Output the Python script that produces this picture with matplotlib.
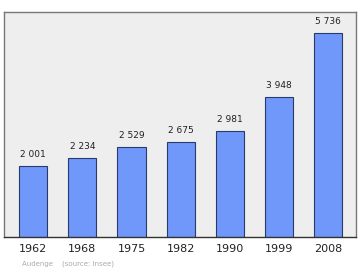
import matplotlib
matplotlib.use("Agg")
import matplotlib.pyplot as plt

years = ["1962", "1968", "1975", "1982", "1990", "1999", "2008"]
population = [2001, 2234, 2529, 2675, 2981, 3948, 5736]

fig = plt.figure(figsize=(3.6, 2.7), dpi=100)
ax = fig.add_axes([4 / 360, 33 / 270, 352 / 360, 225 / 270])
ax.set_facecolor("#eeeeee")

x = list(range(len(years)))
bars = ax.bar(x, population, width=0.57, color="#6f98fa", edgecolor="#2a3a6a", linewidth=0.8)
for xi, v in zip(x, population):
    label = f"{v:,}".replace(",", " ")
    ax.annotate(label, (xi, v), xytext=(0, 5), textcoords="offset points",
                ha="center", va="bottom", fontsize=6.5, color="#222222")

ax.set_xlim(-0.59, 6.56)
ax.set_ylim(0, 6330)
ax.set_xticks(x)
ax.set_xticklabels(years, fontsize=8, color="#222222")
ax.tick_params(axis="x", length=0, pad=5)
ax.set_yticks([])
for side in ax.spines.values():
    side.set_color("#777777")
    side.set_linewidth(1)
ax.spines["bottom"].set_color("#333333")

fig.text(22 / 360, 1 - 264 / 270, "Audenge    (source: Insee)", fontsize=5,
         color="#aaaaaa", va="center")

fig.savefig("out.png", dpi=100)
